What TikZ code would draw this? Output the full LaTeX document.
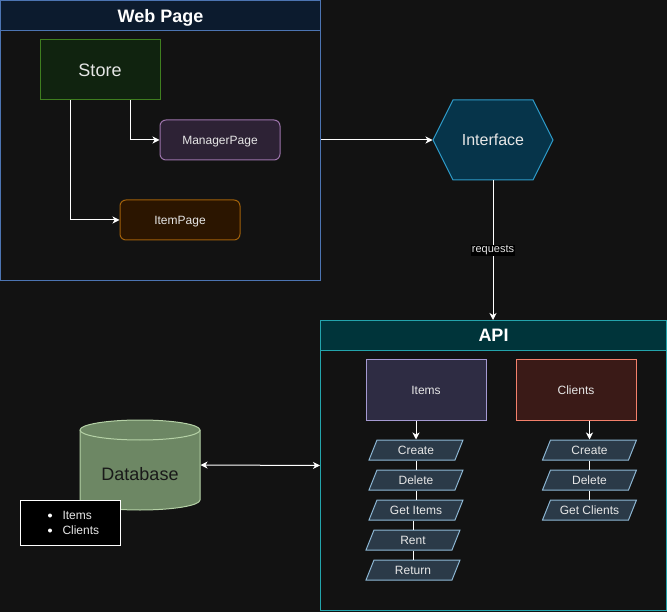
\documentclass[tikz,border=0pt]{standalone}
\usepackage{fontspec}
\setmainfont{Liberation Sans}
\usetikzlibrary{arrows.meta,calc}
\definecolor{bg}{HTML}{121212}
\definecolor{txt}{HTML}{E6E6E6}
\definecolor{wpB}{HTML}{4C74B2}
\definecolor{wpT}{HTML}{0C1B2E}
\definecolor{stB}{HTML}{3F7E1F}
\definecolor{stF}{HTML}{10230F}
\definecolor{mgB}{HTML}{9B73AA}
\definecolor{mgF}{HTML}{2D2235}
\definecolor{ipB}{HTML}{A0600A}
\definecolor{ipF}{HTML}{2B1500}
\definecolor{ifB}{HTML}{2E9BC9}
\definecolor{ifF}{HTML}{06344A}
\definecolor{apB}{HTML}{23A4AC}
\definecolor{apT}{HTML}{00343A}
\definecolor{itB}{HTML}{A59AD2}
\definecolor{itF}{HTML}{2E2C43}
\definecolor{clB}{HTML}{F3806B}
\definecolor{clF}{HTML}{3A1A17}
\definecolor{paB}{HTML}{8EB8D5}
\definecolor{paF}{HTML}{2B3A48}
\definecolor{dbB}{HTML}{B5D1A6}
\definecolor{dbF}{HTML}{6D8764}
\newcommand\fsz[1]{\fontsize{#1}{#1}\selectfont}
\newcommand\paranode[4]{%
  \draw[parast] ($(#2,#3)+(-47,10)$) -- ($(#2,#3)+(-39,-10)$) -- ($(#2,#3)+(47,-10)$) -- ($(#2,#3)+(39,10)$) -- cycle;
  \node[ptext] (#1) at (#2,#3) {#4};}
\begin{document}
\begin{tikzpicture}[x=1pt,y=-1pt,line width=1pt,
  every node/.style={inner sep=0pt,text=txt,text depth=0pt},
  arr/.style={draw=white,-{Stealth[length=7pt,width=7pt,inset=2pt]}},
  arrboth/.style={draw=white,{Stealth[length=7pt,width=7pt,inset=2pt]}-{Stealth[length=7pt,width=7pt,inset=2pt]}},
  plain/.style={draw=white},
  parast/.style={draw=paB,fill=paF},
  ptext/.style={minimum width=86,minimum height=20,font=\fsz{12}},
  titlebar/.style={minimum height=30,font=\bfseries\fsz{18},text=white}]
\fill[bg] (0,0) rectangle (667,612);
\useasboundingbox (0,0) rectangle (667,612);

% Web Page container
\node[draw=wpB,minimum width=320,minimum height=280] (web) at (160.5,140.5) {};
\node[titlebar,draw=wpB,fill=wpT,minimum width=320] (webt) at (160.5,15.5) {Web Page};

\node[draw=stB,fill=stF,minimum width=120,minimum height=60,font=\fsz{18}] (store) at (100,70) {Store};
\node[draw=mgB,fill=mgF,rounded corners=6pt,minimum width=120,minimum height=40,font=\fsz{12}] (mgr) at (220,140) {ManagerPage};
\node[draw=ipB,fill=ipF,rounded corners=6pt,minimum width=120,minimum height=40,font=\fsz{12}] (item) at (180,220) {ItemPage};
\draw[arr] ([xshift=30pt]store.south) |- (mgr.west);
\draw[arr] ([xshift=-30pt]store.south) |- (item.west);

% Interface
\draw[draw=ifB,fill=ifF] (433,140) -- (453,100) -- (533,100) -- (553,140) -- (533,180) -- (453,180) -- cycle;
\node[minimum width=120,minimum height=80,font=\fsz{16}] (iface) at (493,140) {Interface};
\draw[arr] (web.east |- mgr.west) -- (iface.west);

% API container
\node[draw=apB,minimum width=346,minimum height=290] (api) at (493.5,465.5) {};
\node[titlebar,draw=apB,fill=apT,minimum width=346] (apit) at (493.5,335.5) {API};
\draw[arr] (iface.south) -- node[fill=black,inner sep=1pt,text depth=0.22em,font=\fsz{11}] {requests} (iface.south |- apit.north);

\node[draw=itB,fill=itF,minimum width=120,minimum height=60,font=\fsz{12}] (items) at (426,390) {Items};
\node[draw=clB,fill=clF,minimum width=120,minimum height=60,font=\fsz{12}] (clients) at (576,390) {Clients};

\paranode{icreate}{416}{450}{Create}
\paranode{idelete}{416}{480}{Delete}
\paranode{iget}{416}{510}{Get Items}
\paranode{irent}{413}{540}{Rent}
\paranode{iret}{413}{570}{Return}
\paranode{ccreate}{589.5}{450}{Create}
\paranode{cdelete}{589.5}{480}{Delete}
\paranode{cget}{589.5}{510}{Get Clients}

\draw[arr] (icreate.north |- items.south) -- (icreate.north);
\draw[plain] (icreate.south) -- (idelete.north);
\draw[plain] (idelete.south) -- (iget.north);
\draw[plain] (irent.north |- iget.south) -- (irent.north);
\draw[plain] (irent.south) -- (iret.north);
\draw[arr] (ccreate.north |- clients.south) -- (ccreate.north);
\draw[plain] (ccreate.south) -- (cdelete.north);
\draw[plain] (cdelete.south) -- (cget.north);

% Database
\draw[draw=dbB,fill=dbF] (80,430) -- (80,500) arc[start angle=180,end angle=360,x radius=60pt,y radius=10pt] -- (200,430) arc[start angle=0,end angle=180,x radius=60pt,y radius=10pt] -- cycle;
\draw[draw=dbB] (80,430) arc[start angle=180,end angle=360,x radius=60pt,y radius=10pt];
\node[minimum width=120,minimum height=90] (db) at (140,465) {};
\node[font=\fsz{18},text=black!90] (dbtext) at (140,474) {Database};
\draw[arrboth] (db.east) -- (api.west);

% List
\node[draw=white,fill=black,minimum width=100,minimum height=45] (list) at (70,522.5) {};
\fill[white] (50,515.5) circle (2pt);
\fill[white] (50,530.5) circle (2pt);
\node[anchor=west,font=\fsz{12}] (li1) at (62,515.5) {Items};
\node[anchor=west,font=\fsz{12}] (li2) at (62,530.5) {Clients};
\end{tikzpicture}
\end{document}
